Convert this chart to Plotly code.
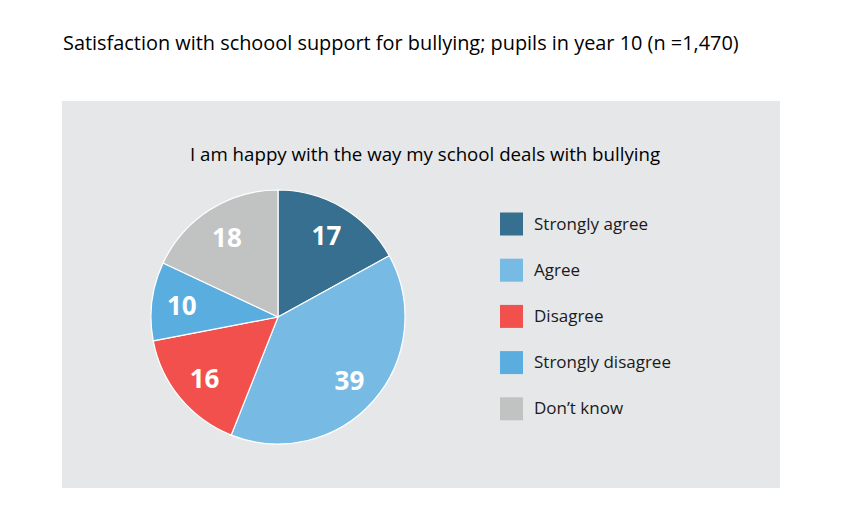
import plotly.graph_objects as go

W, H = 842, 525
OFF = 8  # the page body adds 8px margin

# data
labels = ["Strongly agree", "Agree", "Disagree", "Strongly disagree", "Don\u2019t know"]
values = [17, 39, 16, 10, 18]
colors = ["#366F8F", "#77BBE4", "#F2504C", "#59ADDF", "#C1C3C2"]

title = "Satisfaction with schoool support for bullying; pupils in year 10 (n =1,470)"
subtitle = "I am happy with the way my school deals with bullying"


def px_x(x):
    return (x - OFF) / W


def px_y(y):
    return 1 - (y - OFF) / H


pie_domain = dict(x=[px_x(151), px_x(405)], y=[px_y(444), px_y(190)])

fig = go.Figure()

# the slices
fig.add_trace(go.Pie(
    labels=labels,
    values=values,
    marker=dict(colors=colors, line=dict(color="white", width=1.2)),
    sort=False,
    direction="clockwise",
    rotation=0,
    textinfo="none",
    domain=pie_domain,
    showlegend=False,
    hoverinfo="label+value",
))

# transparent ring on top, only to push the value labels outwards
fig.add_trace(go.Pie(
    labels=labels,
    values=values,
    marker=dict(colors=["rgba(0,0,0,0)"] * len(values), line=dict(width=0)),
    sort=False,
    direction="clockwise",
    rotation=0,
    hole=0.5,
    textinfo="value",
    textposition="inside",
    insidetextorientation="horizontal",
    textfont=dict(family="Open Sans", size=26, color="white", weight="bold"),
    domain=pie_domain,
    showlegend=False,
    hoverinfo="skip",
))

# grey panel
shapes = [dict(
    type="rect", xref="paper", yref="paper",
    x0=px_x(62), x1=px_x(780), y0=px_y(488), y1=px_y(101),
    fillcolor="#E6E7E9", line=dict(width=0), layer="below",
)]

annotations = [
    dict(text=title, xref="paper", yref="paper", x=px_x(61), y=px_y(42),
         xanchor="left", yanchor="middle", showarrow=False,
         font=dict(family="Open Sans", size=19.9, color="#000000")),
    dict(text=subtitle, xref="paper", yref="paper", x=px_x(425), y=px_y(153),
         xanchor="center", yanchor="middle", showarrow=False,
         font=dict(family="Open Sans", size=18.7, color="#000000")),
]

# legend drawn by hand to get the big square swatches
for i, (lab, col) in enumerate(zip(labels, colors)):
    yc = 224 + i * 46.2
    shapes.append(dict(
        type="rect", xref="paper", yref="paper",
        x0=px_x(500), x1=px_x(523), y0=px_y(yc + 11.5), y1=px_y(yc - 11.5),
        fillcolor=col, line=dict(width=0),
    ))
    annotations.append(dict(
        text=lab, xref="paper", yref="paper", x=px_x(532), y=px_y(yc - 1),
        xanchor="left", yanchor="middle", showarrow=False,
        font=dict(family="Open Sans", size=17, color="#1a1a1a"),
    ))

fig.update_layout(
    width=W, height=H,
    margin=dict(l=0, r=0, t=0, b=0),
    paper_bgcolor="white",
    plot_bgcolor="white",
    shapes=shapes,
    annotations=annotations,
    uniformtext=dict(minsize=26, mode="show"),
)

fig.write_html("out.html")
